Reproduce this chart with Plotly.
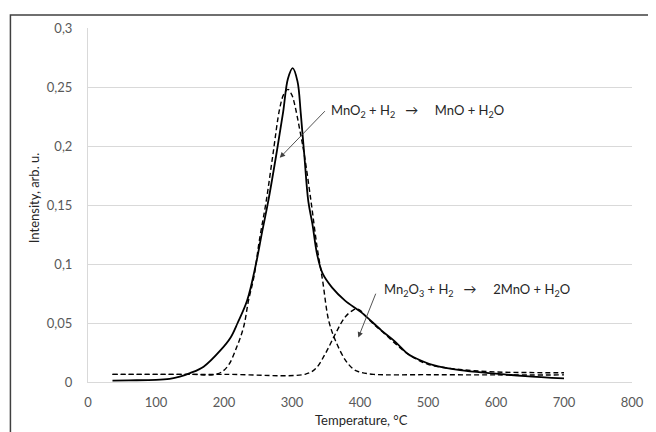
import plotly.graph_objects as go

# measured TPR profile (solid)
temp_meas = [36, 60, 100, 120, 135, 150, 170, 195, 210, 220, 234, 247, 256, 265, 277, 287, 294, 301,
             308, 313, 318, 324, 330, 337, 345, 359, 378, 402, 431, 450, 470, 479, 508, 547, 595, 643, 700]
int_meas = [0.0012, 0.0014, 0.0018, 0.0027, 0.0045, 0.0075, 0.013, 0.027, 0.038, 0.050, 0.069, 0.100, 0.127,
            0.153, 0.193, 0.229, 0.257, 0.266, 0.255, 0.227, 0.193, 0.153, 0.134, 0.108, 0.092, 0.080,
            0.069, 0.059, 0.044, 0.035, 0.024, 0.021, 0.0143, 0.010, 0.0073, 0.005, 0.003]

# fitted peak 1: MnO2 -> MnO (dashed)
temp_p1 = [36, 100, 150, 190, 205, 219, 229, 236, 244, 252, 262, 272, 282, 288, 294, 300, 304, 311,
           318, 328, 337, 345, 354, 364, 378, 390, 398, 420, 500, 600, 700]
int_p1 = [0.0065, 0.0065, 0.0065, 0.0068, 0.013, 0.030, 0.047, 0.069, 0.089, 0.120, 0.153, 0.193,
          0.232, 0.244, 0.248, 0.243, 0.235, 0.215, 0.193, 0.153, 0.114, 0.086, 0.052, 0.035, 0.019,
          0.011, 0.0087, 0.0065, 0.0062, 0.006, 0.006]

# fitted peak 2: Mn2O3 -> MnO (dashed)
temp_p2 = [36, 200, 320, 335, 349, 364, 378, 390, 395, 402, 407, 420, 436, 455, 470, 500, 550, 600, 650, 700]
int_p2 = [0.0065, 0.0065, 0.0067, 0.0115, 0.024, 0.041, 0.055, 0.061, 0.062, 0.060, 0.0565, 0.049,
          0.041, 0.031, 0.024, 0.015, 0.0105, 0.0085, 0.008, 0.0078]

y_ticks = [0, 0.05, 0.1, 0.15, 0.2, 0.25, 0.3]
y_labels = ["0", "0,05", "0,1", "0,15", "0,2", "0,25", "0,3"]
x_ticks = [0, 100, 200, 300, 400, 500, 600, 700, 800]

FONT = "Lato"
GREY = "#595959"
SP = "\u00a0"

fig = go.Figure()
fig.add_trace(go.Scatter(x=temp_p1, y=int_p1, mode='lines', line_shape='spline',
                         line=dict(color='black', width=1.4, dash='5px,3px'), showlegend=False))
fig.add_trace(go.Scatter(x=temp_p2, y=int_p2, mode='lines', line_shape='spline',
                         line=dict(color='black', width=1.4, dash='5px,3px'), showlegend=False))
fig.add_trace(go.Scatter(x=temp_meas, y=int_meas, mode='lines', line_shape='spline',
                         line=dict(color='black', width=1.8), showlegend=False))

arrow = dict(showarrow=True, arrowhead=2, arrowsize=1.2, arrowwidth=0.9, arrowcolor='#404040',
             axref='x', ayref='y', text='')
fig.add_annotation(x=282, y=0.190, ax=350.5, ay=0.2308, **arrow)
fig.add_annotation(x=397.5, y=0.0377, ax=424, ay=0.0761, **arrow)

fig.add_annotation(x=355, y=0.230, xanchor='left', yanchor='middle', showarrow=False,
                   text="MnO<sub>2</sub> + H<sub>2</sub>" + SP * 3 + "\u2192" + SP * 5 + "MnO + H<sub>2</sub>O",
                   font=dict(family=FONT, size=13, color='#262626'))
fig.add_annotation(x=433, y=0.0776, xanchor='left', yanchor='middle', showarrow=False,
                   text="Mn<sub>2</sub>O<sub>3</sub> + H<sub>2</sub>" + SP * 3 + "\u2192" + SP * 5 + "2MnO + H<sub>2</sub>O",
                   font=dict(family=FONT, size=13, color='#262626'))

# axis titles
fig.add_annotation(xref='paper', yref='paper', x=-0.0993, y=0.522, textangle=-90, showarrow=False,
                   xanchor='center', yanchor='middle', text="Intensity, arb. u.",
                   font=dict(family=FONT, size=13, color='#262626'))
fig.add_annotation(xref='paper', yref='paper', x=0.5036, y=-0.1067, showarrow=False,
                   xanchor='center', yanchor='middle', text="Temperature, °C",
                   font=dict(family=FONT, size=13, color='#262626'))

# outer chart border
fig.add_shape(type='rect', xref='paper', yref='paper', x0=-0.1426, x1=1.1, y0=-0.3, y1=1.0365,
              line=dict(color='#404040', width=1.5), layer='below')

# page body has an 8px margin, so the figure is sized/offset to land on the 656x432 window
fig.update_layout(
    width=648, height=424,
    margin=dict(l=80, r=14, t=18, b=50),
    plot_bgcolor='white', paper_bgcolor='white',
    font=dict(family=FONT, size=13, color=GREY),
    xaxis=dict(range=[0, 800], tickvals=x_ticks, showgrid=False, zeroline=False,
               showline=True, linecolor='#d9d9d9', linewidth=1, ticks='', ticklabelstandoff=8),
    yaxis=dict(range=[0, 0.3], tickvals=y_ticks, ticktext=y_labels, showgrid=True,
               gridcolor='#d9d9d9', gridwidth=1, zeroline=False, showline=True,
               linecolor='#d9d9d9', linewidth=1, ticks='', ticklabelstandoff=12),
)

fig.write_html("out.html")
